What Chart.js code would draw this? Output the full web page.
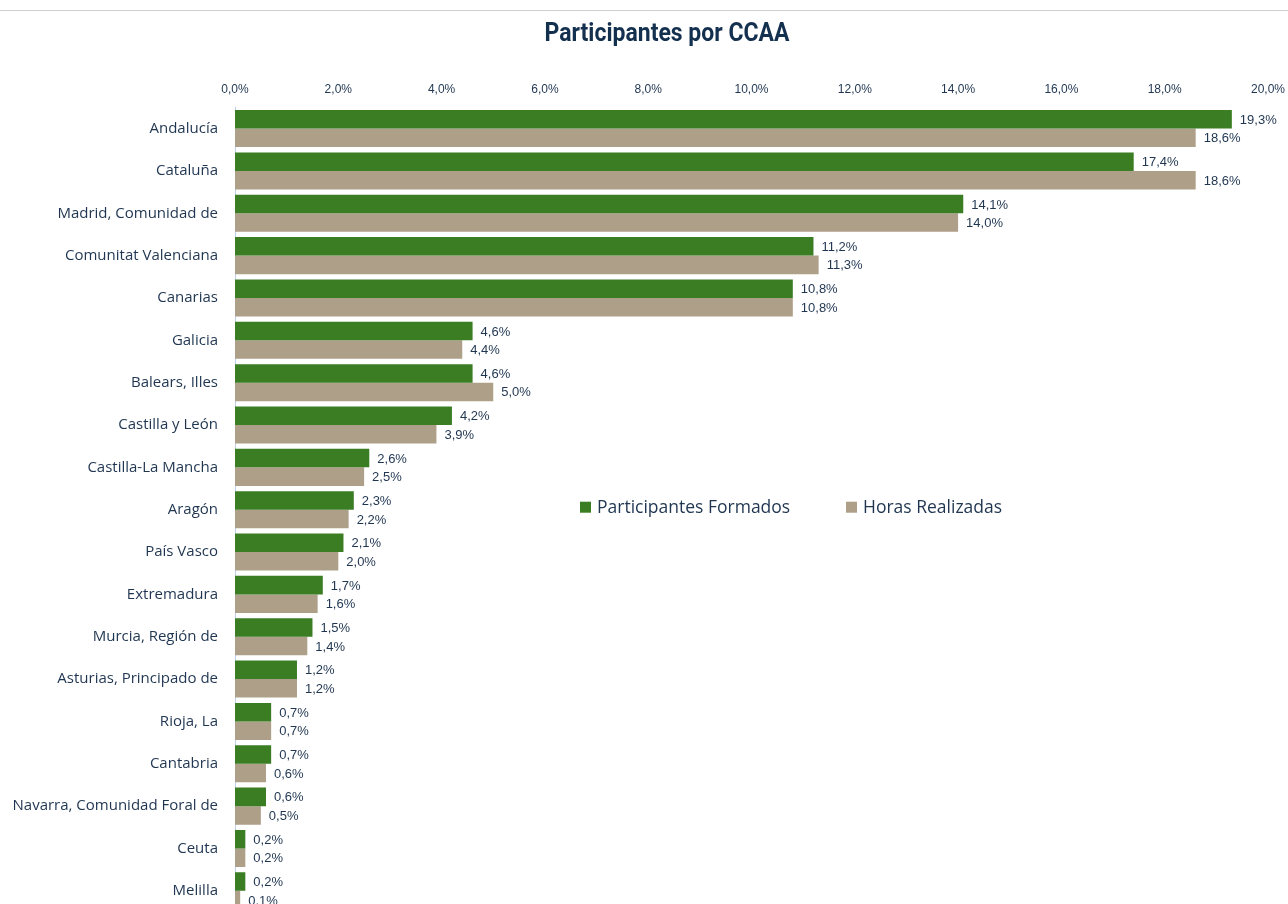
<!DOCTYPE html>
<html>
<head>
<meta charset="utf-8">
<script src="https://cdn.jsdelivr.net/npm/chart.js@4/dist/chart.umd.min.js"></script>
<style>
  html, body { margin: 0; padding: 0; background: #fff; overflow: hidden; }
  #topline { position: absolute; left: 0; top: 10px; width: 1288px; height: 1px; background: #cfcfcf; }
  #c { position: absolute; left: 0; top: 0; }
</style>
</head>
<body>
<canvas id="c" width="1288" height="930"></canvas>
<div id="topline"></div>
<script>
const categories = [
  'Andalucía', 'Cataluña', 'Madrid, Comunidad de', 'Comunitat Valenciana', 'Canarias',
  'Galicia', 'Balears, Illes', 'Castilla y León', 'Castilla-La Mancha', 'Aragón',
  'País Vasco', 'Extremadura', 'Murcia, Región de', 'Asturias, Principado de', 'Rioja, La',
  'Cantabria', 'Navarra, Comunidad Foral de', 'Ceuta', 'Melilla'
];
const participantesFormados = [19.3, 17.4, 14.1, 11.2, 10.8, 4.6, 4.6, 4.2, 2.6, 2.3, 2.1, 1.7, 1.5, 1.2, 0.7, 0.7, 0.6, 0.2, 0.2];
const horasRealizadas      = [18.6, 18.6, 14.0, 11.3, 10.8, 4.4, 5.0, 3.9, 2.5, 2.2, 2.0, 1.6, 1.4, 1.2, 0.7, 0.6, 0.5, 0.2, 0.1];
const seriesNames = ['Participantes Formados', 'Horas Realizadas'];
const xTicks = [0, 2, 4, 6, 8, 10, 12, 14, 16, 18, 20];
const chartTitle = 'Participantes por CCAA';

const GREEN = '#3a7d23';
const TAN = '#ae9f88';
const TEXT = '#1f3550';

const pct = v => v.toFixed(1).replace('.', ',') + '%';

// heading, drawn slightly condensed
const heading = {
  id: 'heading',
  afterDraw(chart) {
    const ctx = chart.ctx;
    ctx.save();
    ctx.translate(667, 35);
    ctx.scale(0.92, 1);
    ctx.font = 'bold 25px Roboto, sans-serif';
    ctx.fillStyle = '#14304f';
    ctx.textAlign = 'center';
    ctx.textBaseline = 'middle';
    ctx.fillText(chartTitle, 0, 0);
    ctx.restore();
  }
};

// value labels to the right of each bar
const valueLabels = {
  id: 'valueLabels',
  afterDatasetsDraw(chart) {
    const ctx = chart.ctx;
    ctx.save();
    ctx.font = '13px "Liberation Sans", Arial, sans-serif';
    ctx.fillStyle = TEXT;
    ctx.textAlign = 'left';
    ctx.textBaseline = 'middle';
    chart.data.datasets.forEach((ds, i) => {
      chart.getDatasetMeta(i).data.forEach((bar, j) => {
        ctx.fillText(pct(ds.data[j]), bar.x + 8, bar.y + 1);
      });
    });
    ctx.restore();
  }
};

// legend placed inside the plot area
const innerLegend = {
  id: 'innerLegend',
  afterDraw(chart) {
    const ctx = chart.ctx;
    const area = chart.chartArea;
    const y = chart.scales.y.getPixelForValue(9) - 2;
    let x = area.left + 345;
    ctx.save();
    ctx.font = '17.5px "Open Sans", sans-serif';
    ctx.textBaseline = 'middle';
    ctx.textAlign = 'left';
    chart.data.datasets.forEach((ds, i) => {
      ctx.fillStyle = ds.backgroundColor;
      ctx.fillRect(x, y - 6, 11, 11);
      ctx.fillStyle = TEXT;
      ctx.fillText(ds.label, x + 17, y);
      x += 266;
    });
    ctx.restore();
  }
};

new Chart(document.getElementById('c'), {
  type: 'bar',
  data: {
    labels: categories,
    datasets: [
      { label: seriesNames[0], data: participantesFormados, backgroundColor: GREEN },
      { label: seriesNames[1], data: horasRealizadas, backgroundColor: TAN }
    ]
  },
  options: {
    indexAxis: 'y',
    responsive: false,
    animation: false,
    categoryPercentage: 0.875,
    barPercentage: 1.0,
    layout: { padding: { left: 0, right: 0, top: 79, bottom: 0 } },
    plugins: {
      legend: { display: false },
      tooltip: { enabled: false },
      title: { display: false }
    },
    scales: {
      x: {
        position: 'top',
        min: 0,
        max: 20,
        afterBuildTicks: axis => { axis.ticks = xTicks.map(v => ({ value: v })); },
        ticks: {
          color: TEXT,
          font: { family: '"Liberation Sans", Arial, sans-serif', size: 12 },
          padding: 3,
          callback: v => pct(v)
        },
        grid: { display: false },
        border: { display: false }
      },
      y: {
        afterFit: axis => { axis.width = 235; },
        ticks: {
          color: TEXT,
          font: { family: '"Open Sans", sans-serif', size: 15 },
          padding: 9
        },
        grid: { display: false },
        border: { display: true, color: '#bcd0ea', width: 1 }
      }
    }
  },
  plugins: [valueLabels, innerLegend, heading]
});
</script>
</body>
</html>
